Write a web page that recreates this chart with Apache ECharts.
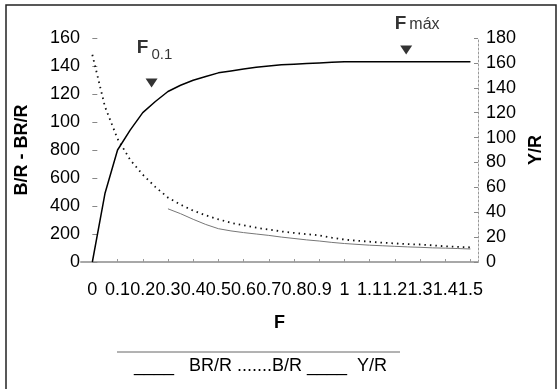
<!DOCTYPE html>
<html>
<head>
<meta charset="utf-8">
<script src="https://cdn.jsdelivr.net/npm/echarts@6/dist/echarts.min.js"></script>
<style>
html, body { margin: 0; padding: 0; background: #fff; }
#chart { width: 560px; height: 389px; }
</style>
</head>
<body>
<div id="chart"></div>
<script>
// mortalidad por pesca F
var fValues = [0, 0.05, 0.1, 0.15, 0.2, 0.25, 0.3, 0.35, 0.4, 0.45, 0.5, 0.55, 0.6, 0.65, 0.7, 0.75,
    0.8, 0.85, 0.9, 0.95, 1.0, 1.05, 1.1, 1.15, 1.2, 1.25, 1.3, 1.35, 1.4, 1.45, 1.5];
// Y/R (eje derecho)
var yrValues = [0, 55, 90, 106, 120, 129, 137, 142, 146, 149, 152, 153.5, 155, 156.5, 157.5, 158.5,
    159, 159.5, 160, 160.5, 161, 161, 161, 161, 161, 161, 161, 161, 161, 161, 161];
// B/R (eje izquierdo)
var brValues = [1480, 1110, 880, 730, 624, 536, 460, 410, 367, 333, 305, 280, 262, 245, 232, 218,
    208, 199, 190, 174, 160, 152, 145, 138, 133, 128, 125, 119, 112, 108, 105];
// BR/R (eje izquierdo), sin datos antes de 0.3
var brrValues = [null, null, null, null, null, null, 380, 345, 305, 268, 238, 222, 210, 200, 190, 178,
    168, 158, 150, 140, 132, 126, 120, 116, 112, 108, 105, 101, 99, 96, 93];

var xTickValues = [0, 0.1, 0.2, 0.3, 0.4, 0.5, 0.6, 0.7, 0.8, 0.9, 1, 1.1, 1.2, 1.3, 1.4, 1.5];
var xTickLabels = ['0', '0.1', '0.2', '0.3', '0.4', '0.5', '0.6', '0.7', '0.8', '0.9', '1', '1.1', '1.2', '1.3', '1.4', '1.5'];
var leftTickValues = [0, 200, 400, 600, 800, 1000, 1200, 1400, 1600];
var leftTickLabels = ['0', '200', '400', '600', '800', '100', '120', '140', '160'];

// puntos de referencia F0.1 y Fmáx
var refF = [0.235, 1.245];
var refY = [1279, 1514];
var refLabels = ['{f|F}{s|0.1}', '{f|F}{m|máx}'];

function pairs(xs, ys) {
    var out = [];
    for (var i = 0; i < xs.length; i++) {
        if (ys[i] != null) out.push([xs[i], ys[i]]);
    }
    return out;
}

var font = "'Liberation Sans', Arial, sans-serif";
var myChart = echarts.init(document.getElementById('chart'));

var option = {
    animation: false,
    textStyle: { fontFamily: font },
    grid: { left: 81, right: 82, top: 38, bottom: 127 },
    xAxis: {
        type: 'value',
        min: -0.045,
        max: 1.53,
        name: 'F',
        nameLocation: 'middle',
        nameGap: 52,
        nameTextStyle: { fontSize: 18, fontWeight: 'bold', color: '#000', fontFamily: font },
        axisLine: { lineStyle: { color: '#a8a8a8', width: 2 } },
        axisTick: { show: true, inside: true, length: 3, lineStyle: { color: '#999' }, customValues: xTickValues },
        axisLabel: {
            fontSize: 18, color: '#000', margin: 19, fontFamily: font, hideOverlap: false,
            customValues: xTickValues,
            formatter: function (v) {
                var i = xTickValues.indexOf(v);
                return i >= 0 ? xTickLabels[i] : '';
            }
        },
        splitLine: { show: false }
    },
    yAxis: [
        {
            type: 'value',
            min: 0,
            max: 1600,
            interval: 200,
            name: 'B/R - BR/R',
            nameLocation: 'middle',
            nameGap: 50,
            nameTextStyle: { fontSize: 18, fontWeight: 'bold', color: '#000', fontFamily: font },
            axisLine: { show: false },
            axisTick: { show: true, inside: true, length: 5, lineStyle: { color: '#888' } },
            axisLabel: {
                fontSize: 18, color: '#000', margin: 1, fontFamily: font,
                formatter: function (v) {
                    var i = leftTickValues.indexOf(v);
                    return i >= 0 ? leftTickLabels[i] : '';
                }
            },
            splitLine: { show: false }
        },
        {
            type: 'value',
            min: 0,
            max: 180,
            interval: 20,
            position: 'right',
            name: 'Y/R',
            nameLocation: 'middle',
            nameGap: 46,
            nameRotate: 90,
            nameTextStyle: { fontSize: 18, fontWeight: 'bold', color: '#000', fontFamily: font },
            axisLine: { show: true, lineStyle: { color: '#999', type: [2, 2], width: 1 } },
            axisTick: { show: true, inside: true, length: 4, lineStyle: { color: '#888' } },
            axisLabel: { fontSize: 18, color: '#000', margin: 8, fontFamily: font },
            splitLine: { show: false }
        }
    ],
    series: [
        {
            name: 'BR/R',
            type: 'line',
            yAxisIndex: 0,
            data: pairs(fValues, brrValues),
            showSymbol: false,
            lineStyle: { color: '#777', width: 1 }
        },
        {
            name: 'B/R',
            type: 'line',
            yAxisIndex: 0,
            data: pairs(fValues, brValues),
            showSymbol: false,
            lineStyle: { color: '#111', width: 1.8, type: [1.5, 4] }
        },
        {
            name: 'Y/R',
            type: 'line',
            yAxisIndex: 1,
            data: pairs(fValues, yrValues),
            showSymbol: false,
            lineStyle: { color: '#000', width: 1.5 }
        },
        {
            name: 'ref',
            type: 'scatter',
            yAxisIndex: 0,
            symbol: 'triangle',
            symbolRotate: 180,
            symbolSize: [12, 9],
            itemStyle: { color: '#000' },
            data: [
                { value: [refF[0], refY[0]], label: { formatter: refLabels[0], offset: [3, 0], distance: 16 } },
                { value: [refF[1], refY[1]], label: { formatter: refLabels[1], offset: [11, 0], distance: 12 } }
            ],
            label: {
                show: true,
                position: 'top',
                rich: {
                    f: { fontSize: 19, fontWeight: 'bold', color: '#000', fontFamily: font },
                    s: { fontSize: 15, color: '#000', fontFamily: font, padding: [14, 0, 0, 3] },
                    m: { fontSize: 16, color: '#000', fontFamily: font, padding: [2, 0, 0, 3] }
                }
            }
        }
    ],
    graphic: [
        {
            type: 'rect',
            shape: { x: 6, y: 5, width: 550, height: 420 },
            style: { fill: 'none', stroke: '#222', lineWidth: 1.5 }
        },
        {
            type: 'line',
            shape: { x1: 117, y1: 352, x2: 400, y2: 352 },
            style: { stroke: '#666', lineWidth: 1 }
        },
        {
            type: 'text',
            left: 134,
            top: 357,
            style: { text: '____   BR/R .......B/R ____  Y/R', fontSize: 18, fill: '#000', fontFamily: font }
        }
    ]
};

myChart.setOption(option);
</script>
</body>
</html>
